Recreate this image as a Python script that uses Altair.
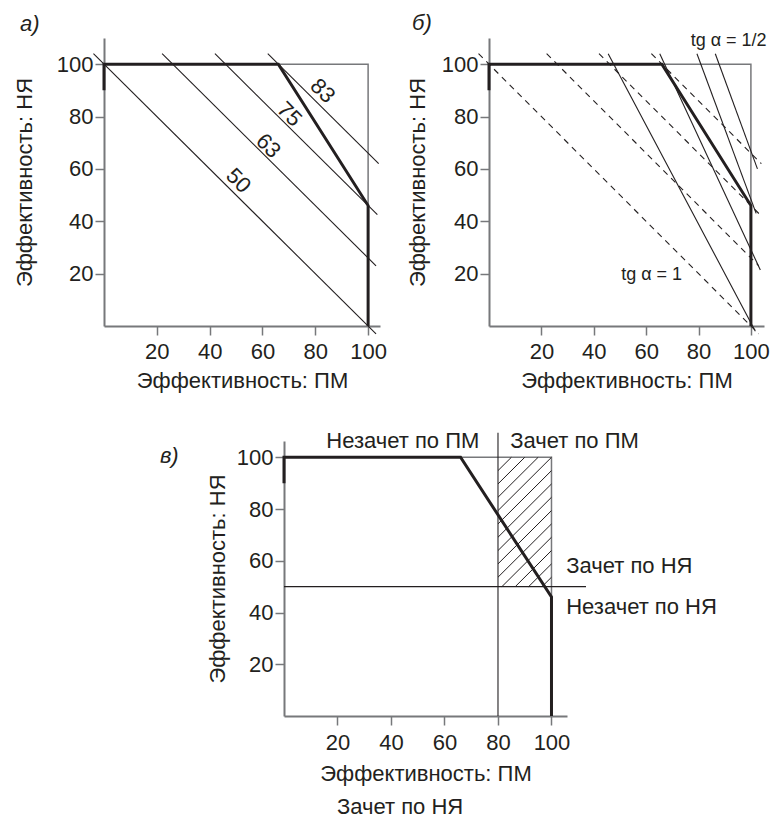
import altair as alt
import numpy as np
import pandas as pd

FONT = "Liberation Sans"
INK = "#231f20"
GREY = "#77787b"
FS = 22

TICKS = [20, 40, 60, 80, 100]
X_TITLE = "Эффективность: ПМ"
Y_TITLE = "Эффективность: НЯ"

# bold limiting curve shared by all three panels
limit_x = [0, 0, 66, 100, 100]
limit_y = [90, 100, 100, 46, 0]
# thin frame: top and right edges of the square
frame_x = [0, 100, 100]
frame_y = [100, 100, 0]

# panel а: lines of equal mean efficiency
iso_x1 = [-4, 22, 42, 62]
iso_y1 = [104, 104, 104, 104]
iso_x2 = [103, 103, 103.5, 104]
iso_y2 = [-3, 23, 42.5, 62]
iso_text = ["50", "63", "75", "83"]
iso_text_x = [50.9, 62.2, 70.2, 82.8]
iso_text_y = [55.5, 68.8, 80.9, 89.8]
mark_a_text = ["а)"]
mark_a_x = [-31.8]
mark_a_y = [115.3]

# panel б: steeper weighted lines
steep_x1 = [45.5, 65.2, 79.4, 86.4]
steep_y1 = [104, 104, 104, 104]
steep_x2 = [101.7, 103.6, 102, 102.5]
steep_y2 = [-2, 21.4, 43, 60]
tg_text = ["tg α = 1/2", "tg α = 1"]
tg_x = [91.5, 62.1]
tg_y = [109.0, 19.5]
mark_b_text = ["б)"]
mark_b_x = [-29.4]
mark_b_y = [115.6]

# panel в: pass thresholds and zone captions
pass_pm = 80
pass_nya = 50
cut_x1 = [pass_pm, 0]
cut_y1 = [0, pass_nya]
cut_x2 = [pass_pm, 112.9]
cut_y2 = [109.5, pass_nya]
top_text = ["Незачет по ПМ", "Зачет по ПМ"]
top_x = [44.4, 108.6]
top_y = [106.3, 106.3]
side_text = ["Зачет по НЯ", "Незачет по НЯ"]
side_x = [105.5, 105.5]
side_y = [58, 42]
foot_text = ["Зачет по НЯ"]
foot_x = [43.4]
foot_y = [-35.2]
mark_c_text = ["в)"]
mark_c_x = [-46.4]
mark_c_y = [100.4]

HATCH_STEP = 5.0   # horizontal spacing of hatch strokes, ПМ units
HATCH_RISE = 1.03  # hatch slope in data units


def hatch_segments(x0, x1, y0, y1):
    rows = []
    span = (y1 - y0) / HATCH_RISE
    start = x1 - span
    for base in start + HATCH_STEP * np.arange(-12, 12):
        lo = max(y0, y0 + HATCH_RISE * (x0 - base))
        hi = min(y1, y0 + HATCH_RISE * (x1 - base))
        if hi - lo > 0.5:
            rows.append({"x": base + (lo - y0) / HATCH_RISE, "y": lo,
                         "x2": base + (hi - y0) / HATCH_RISE, "y2": hi})
    return pd.DataFrame(rows)


def axes(xdom, ydom, x_label_pad, x_title_pad, y_title_pad):
    xa = alt.Axis(values=TICKS, title=X_TITLE, labelPadding=x_label_pad,
                  titlePadding=x_title_pad)
    ya = alt.Axis(values=TICKS, title=Y_TITLE, titlePadding=y_title_pad)
    xs = alt.Scale(domain=xdom, nice=False, zero=False)
    ys = alt.Scale(domain=ydom, nice=False, zero=False)

    def X(field):
        return alt.X(f"{field}:Q", scale=xs, axis=xa)

    def Y(field):
        return alt.Y(f"{field}:Q", scale=ys, axis=ya)

    return X, Y


def polyline(xv, yv, X, Y, **mark):
    df = pd.DataFrame({"x": xv, "y": yv, "k": range(len(xv))})
    return alt.Chart(df).mark_line(**mark).encode(x=X("x"), y=Y("y"), order="k:Q")


def segments(df, X, Y, **mark):
    return alt.Chart(df).mark_rule(**mark).encode(
        x=X("x"), y=Y("y"), x2=alt.X2("x2"), y2=alt.Y2("y2"))


def labels(txt, xv, yv, X, Y, **mark):
    style = {"font": FONT, "fontSize": FS, "color": INK}
    style.update(mark)
    df = pd.DataFrame({"t": txt, "x": xv, "y": yv})
    return alt.Chart(df).mark_text(**style).encode(x=X("x"), y=Y("y"), text="t:N")


def panel_letter(txt, xv, yv, X, Y):
    return labels(txt, xv, yv, X, Y, align="left", baseline="middle", fontStyle="italic")


def frame_and_limit(X, Y):
    return (polyline(frame_x, frame_y, X, Y, color=GREY, strokeWidth=1.5),
            polyline(limit_x, limit_y, X, Y, color=INK, strokeWidth=3,
                     strokeJoin="miter", strokeCap="butt"))


# ---- panel а
Xa, Ya = axes([0, 104.5], [0, 110], 6, 8, 20)
iso_df = pd.DataFrame({"x": iso_x1, "y": iso_y1, "x2": iso_x2, "y2": iso_y2})
fr_a, lim_a = frame_and_limit(Xa, Ya)
panel_a = alt.layer(
    fr_a,
    segments(iso_df, Xa, Ya, color=INK, strokeWidth=1.1),
    lim_a,
    labels(iso_text, iso_text_x, iso_text_y, Xa, Ya, angle=45, align="center", baseline="middle"),
    panel_letter(mark_a_text, mark_a_x, mark_a_y, Xa, Ya),
).properties(width=276, height=288)

# ---- panel б
Xb, Yb = axes([0, 105], [0, 110], 6, 8, 12)
steep_df = pd.DataFrame({"x": steep_x1, "y": steep_y1, "x2": steep_x2, "y2": steep_y2})
fr_b, lim_b = frame_and_limit(Xb, Yb)
panel_b = alt.layer(
    fr_b,
    segments(iso_df, Xb, Yb, color=INK, strokeWidth=1.1, strokeDash=[6, 5]),
    segments(steep_df, Xb, Yb, color=INK, strokeWidth=1.1),
    lim_b,
    labels(tg_text, tg_x, tg_y, Xb, Yb, align="center", baseline="middle", fontSize=18),
    panel_letter(mark_b_text, mark_b_x, mark_b_y, Xb, Yb),
).properties(width=275, height=288)

# ---- panel в
Xc, Yc = axes([0, 105.8], [0, 106.3], 7, 10, 7)
cut_df = pd.DataFrame({"x": cut_x1, "y": cut_y1, "x2": cut_x2, "y2": cut_y2})
fr_c, lim_c = frame_and_limit(Xc, Yc)
panel_c = alt.layer(
    fr_c,
    segments(hatch_segments(pass_pm, 100, pass_nya, 100), Xc, Yc, color=INK, strokeWidth=1),
    segments(cut_df, Xc, Yc, color=INK, strokeWidth=1.1),
    lim_c,
    labels(top_text, top_x, top_y, Xc, Yc, align="center", baseline="middle"),
    labels(side_text, side_x, side_y, Xc, Yc, align="left", baseline="middle"),
    labels(foot_text, foot_x, foot_y, Xc, Yc, align="center", baseline="middle"),
    panel_letter(mark_c_text, mark_c_x, mark_c_y, Xc, Yc),
).properties(width=283, height=275)

spacer = alt.Chart(pd.DataFrame({"v": [0]})).mark_point(opacity=0).encode(
    x=alt.X("v:Q", axis=None), y=alt.Y("v:Q", axis=None)
).properties(width=170, height=10)

row1 = alt.hconcat(panel_a, panel_b, spacing=109, bounds="flush")
row2 = alt.hconcat(spacer, panel_c, spacing=10, bounds="flush")

chart = alt.vconcat(row1, row2, spacing=37).properties(
    padding={"left": 12, "top": 11, "right": 0, "bottom": 0},
    background="white",
).configure_view(stroke="transparent").configure_axis(
    grid=False, domainColor=GREY, domainWidth=2, tickColor=GREY, tickWidth=1.5,
    tickSize=9, labelFont=FONT, labelFontSize=FS, labelColor=INK,
    titleFont=FONT, titleFontSize=FS, titleFontWeight="normal", titleColor=INK,
    labelFlush=False, labelOverlap=False,
)

chart.save("out.html", embed_options={"renderer": "svg", "actions": False})
